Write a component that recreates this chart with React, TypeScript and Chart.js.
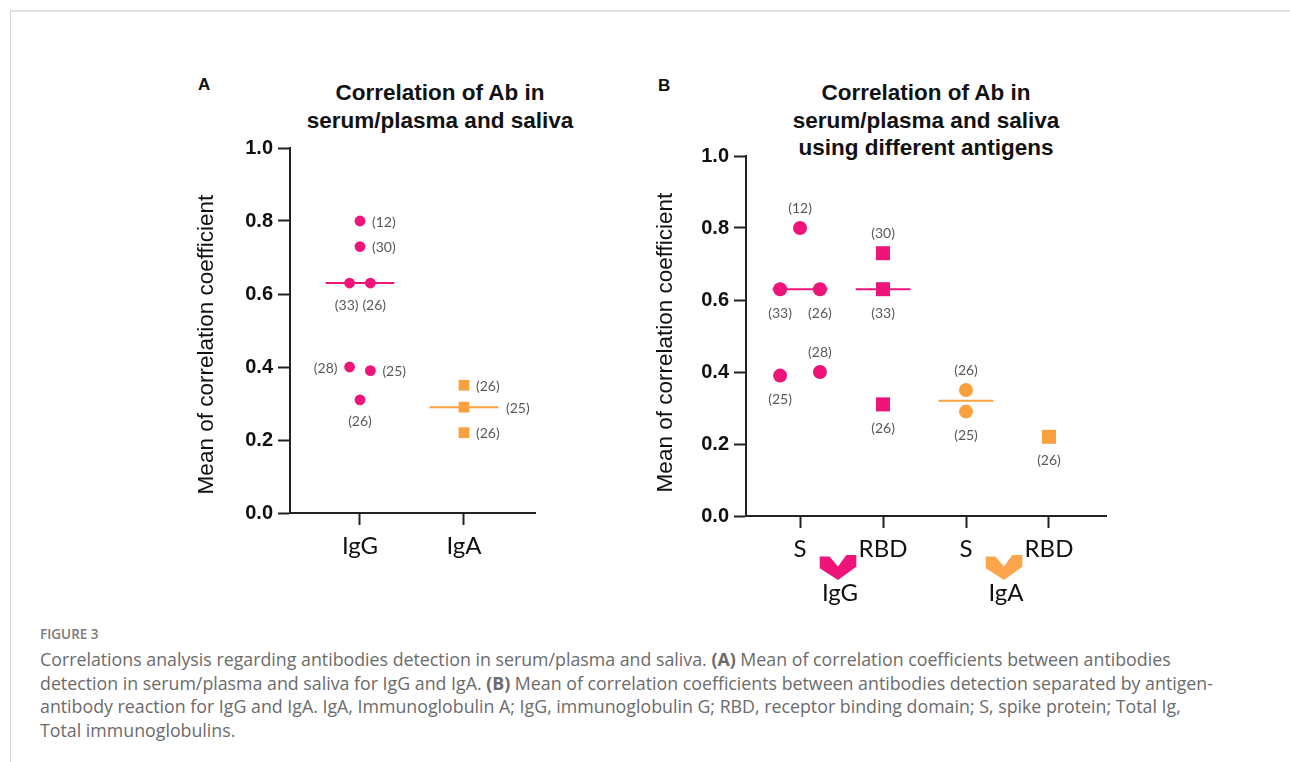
import React, { useEffect, useRef } from 'react';
import { Chart, registerables } from 'chart.js';

Chart.register(...registerables);

const PINK = '#EE1479';
const ORANGE = '#F9A03F';
const ORANGE_ARROW = '#FBA64A';
const LABEL_GREY = '#595959';
const AXIS_TITLE = 'Mean of correlation coefficient';

// ---------- Panel A data ----------
const categoriesA = ['IgG', 'IgA'];
const igGCorrA = [0.8, 0.73, 0.63, 0.63, 0.4, 0.39, 0.31];
const igGSlotA = [0, 0, -1, 1, -1, 1, 0];
const igGRefsA = ['(12)', '(30)', '(33)', '(26)', '(28)', '(25)', '(26)'];
const igGAnchorA = ['right', 'right', 'belowL', 'belowR', 'left', 'right', 'below'];
const igACorrA = [0.35, 0.29, 0.22];
const igASlotA = [0, 0, 0];
const igARefsA = ['(26)', '(25)', '(26)'];
const igAAnchorA = ['right', 'rightFar', 'right'];
const mediansA = [0.63, 0.29];

// ---------- Panel B data ----------
const categoriesB = ['S', 'RBD', 'S', 'RBD'];
const groupsB = ['IgG', 'IgA'];
const igGSCorrB = [0.8, 0.63, 0.63, 0.39, 0.4];
const igGSSlotB = [0, -1, 1, -1, 1];
const igGSRefsB = ['(12)', '(33)', '(26)', '(25)', '(28)'];
const igGSAnchorB = ['above', 'below', 'below', 'below', 'above'];
const igGRbdCorrB = [0.73, 0.63, 0.31];
const igGRbdSlotB = [0, 0, 0];
const igGRbdRefsB = ['(30)', '(33)', '(26)'];
const igGRbdAnchorB = ['above', 'below', 'below'];
const igASCorrB = [0.35, 0.29];
const igASSlotB = [0, 0];
const igASRefsB = ['(26)', '(25)'];
const igASAnchorB = ['above', 'below'];
const igARbdCorrB = [0.22];
const igARbdSlotB = [0];
const igARbdRefsB = ['(26)'];
const igARbdAnchorB = ['below'];
const mediansB = [0.63, 0.63, 0.32, null];

const yTicks = [0, 0.2, 0.4, 0.6, 0.8, 1.0];

function pointSet(values: number[], cat: number, slots: number[], spread: number, refs: string[], anchors: string[], color: string, style: string, radius: number) {
  return {
    data: values.map((v, i) => ({ x: cat + slots[i] * spread, y: v })),
    backgroundColor: color,
    borderColor: color,
    borderWidth: 0,
    pointStyle: style,
    pointRadius: radius,
    pointHoverRadius: radius,
    showLine: false,
    order: 0,
    refs,
    anchors,
  } as any;
}

function medianSet(value: number | null, cat: number, color: string, half: number) {
  return {
    data: value == null ? [] : [{ x: cat - half, y: value }, { x: cat + half, y: value }],
    borderColor: color,
    backgroundColor: color,
    borderWidth: 2,
    pointRadius: 0,
    showLine: true,
    order: 5,
  } as any;
}

const refLabelPlugin = {
  id: 'refLabels',
  afterDatasetsDraw(chart: any, _args: any, opts: any) {
    const ctx = chart.ctx;
    ctx.save();
    ctx.font = '14px Lato, "Noto Sans", sans-serif';
    ctx.fillStyle = LABEL_GREY;
    ctx.textBaseline = 'middle';
    chart.data.datasets.forEach((ds: any, di: number) => {
      if (!ds.refs) return;
      const meta = chart.getDatasetMeta(di);
      meta.data.forEach((pt: any, i: number) => {
        const a = ds.anchors[i];
        let x = pt.x;
        let y = pt.y;
        if (a === 'right') { ctx.textAlign = 'left'; x += opts.side; y += 1; }
        else if (a === 'rightFar') { ctx.textAlign = 'left'; x += opts.far; y += 1; }
        else if (a === 'left') { ctx.textAlign = 'right'; x -= opts.side; y += 1; }
        else if (a === 'above') { ctx.textAlign = 'center'; y -= opts.above; }
        else if (a === 'belowL') { ctx.textAlign = 'right'; x += 9; y += opts.below; }
        else if (a === 'belowR') { ctx.textAlign = 'left'; x -= 8; y += opts.below; }
        else { ctx.textAlign = 'center'; y += opts.below; }
        ctx.fillText(ds.refs[i], x, y);
      });
    });
    ctx.restore();
  },
};

const yTitlePlugin = {
  id: 'yTitle',
  afterDraw(chart: any, _args: any, opts: any) {
    const { ctx, chartArea } = chart;
    ctx.save();
    ctx.translate(chartArea.left + opts.dx, (chartArea.top + chartArea.bottom) / 2 + opts.dy);
    ctx.rotate(-Math.PI / 2);
    ctx.font = '22.5px "Liberation Sans", Arial, sans-serif';
    ctx.fillStyle = '#111';
    ctx.textAlign = 'center';
    ctx.textBaseline = 'middle';
    ctx.fillText(opts.text, 0, 0);
    ctx.restore();
  },
};

const groupPlugin = {
  id: 'groups',
  afterDraw(chart: any, _args: any, opts: any) {
    if (!opts || !opts.groups) return;
    const { ctx } = chart;
    const xs = chart.scales.x;
    const bottom = chart.chartArea.bottom;
    opts.groups.forEach((g: string, gi: number) => {
      const a = xs.getPixelForValue(gi * 2 + 1);
      const b = xs.getPixelForValue(gi * 2 + 2);
      const mid = (a + b) / 2;
      const cx = mid - 3.5;
      const pts = [
        [-18.3, 40.5], [-8.5, 40.5], [0, 50.5], [8.3, 39], [18.3, 39],
        [18.3, 50.7], [0, 64], [-18.3, 52.3],
      ];
      ctx.save();
      ctx.fillStyle = opts.colors[gi];
      ctx.beginPath();
      pts.forEach((p, i) => {
        if (i === 0) ctx.moveTo(cx + p[0], bottom + p[1]);
        else ctx.lineTo(cx + p[0], bottom + p[1]);
      });
      ctx.closePath();
      ctx.fill();
      ctx.fillStyle = '#111';
      ctx.font = '24px Lato, "Noto Sans", sans-serif';
      ctx.textAlign = 'center';
      ctx.textBaseline = 'middle';
      ctx.fillText(g, mid - 1.5, bottom + 77);
      ctx.restore();
    });
  },
};

function makeOptions(cats: string[], xmin: number, xmax: number, yWidth: number, xHeight: number, pad: any, titleDx: number, titleDy: number, extra: any) {
  return {
    animation: false,
    responsive: false,
    devicePixelRatio: 1,
    events: [],
    layout: { padding: pad },
    plugins: {
      legend: { display: false },
      tooltip: { enabled: false },
      refLabels: extra.labels,
      yTitle: { text: AXIS_TITLE, dx: titleDx, dy: titleDy },
      groups: extra.groups || {},
    },
    scales: {
      x: {
        type: 'linear',
        min: xmin,
        max: xmax,
        afterBuildTicks: (scale: any) => {
          scale.ticks = cats.map((_, i) => ({ value: i + 1 }));
        },
        afterFit: (scale: any) => { scale.height = xHeight; },
        ticks: {
          autoSkip: false,
          maxRotation: 0,
          padding: 7,
          color: '#111',
          font: { family: 'Lato, "Noto Sans", sans-serif', size: 24 },
          callback: (v: number) => cats[Math.round(v) - 1] ?? '',
        },
        grid: {
          drawOnChartArea: false,
          drawTicks: true,
          tickLength: 12,
          tickWidth: 2,
          tickColor: '#222',
        },
        border: { display: true, color: '#222', width: 2 },
      },
      y: {
        type: 'linear',
        min: 0,
        max: 1,
        afterBuildTicks: (scale: any) => {
          scale.ticks = yTicks.map((v) => ({ value: v }));
        },
        afterFit: (scale: any) => { scale.width = yWidth; },
        ticks: {
          padding: 5,
          color: '#111',
          font: { family: '"Liberation Sans", Arial, sans-serif', size: 20, weight: 'bold' },
          callback: (v: number) => Number(v).toFixed(1),
        },
        grid: {
          drawOnChartArea: false,
          drawTicks: true,
          tickLength: 12,
          tickWidth: 2,
          tickColor: '#222',
        },
        border: { display: true, color: '#222', width: 2 },
      },
    },
  } as any;
}

function ChartA() {
  const ref = useRef<HTMLCanvasElement>(null);
  useEffect(() => {
    if (!ref.current) return;
    const spread = 0.1;
    const half = 0.33;
    const chart = new Chart(ref.current, {
      type: 'scatter',
      data: {
        datasets: [
          pointSet(igGCorrA, 1, igGSlotA, spread, igGRefsA, igGAnchorA, PINK, 'circle', 5.4),
          pointSet(igACorrA, 2, igASlotA, spread, igARefsA, igAAnchorA, ORANGE, 'rect', 7.6),
          medianSet(mediansA[0], 1, PINK, half),
          medianSet(mediansA[1], 2, ORANGE, half),
        ],
      },
      options: makeOptions(categoriesA, 0.327, 2.683, 140, 67, { left: 0, top: 28, right: 35, bottom: 0 }, -83, 14, {
        labels: { side: 12, far: 42, above: 20, below: 22 },
      }),
      plugins: [refLabelPlugin, yTitlePlugin],
    } as any);
    return () => chart.destroy();
  }, []);
  return <canvas ref={ref} width={420} height={460} style={{ position: 'absolute', left: 150, top: 120, width: 420, height: 460, display: 'block' }} />;
}

function ChartB() {
  const ref = useRef<HTMLCanvasElement>(null);
  useEffect(() => {
    if (!ref.current) return;
    const spread = 0.24;
    const half = 0.33;
    const chart = new Chart(ref.current, {
      type: 'scatter',
      data: {
        datasets: [
          pointSet(igGSCorrB, 1, igGSSlotB, spread, igGSRefsB, igGSAnchorB, PINK, 'circle', 7),
          pointSet(igGRbdCorrB, 2, igGRbdSlotB, spread, igGRbdRefsB, igGRbdAnchorB, PINK, 'rect', 9.9),
          pointSet(igASCorrB, 3, igASSlotB, spread, igASRefsB, igASAnchorB, ORANGE, 'circle', 7),
          pointSet(igARbdCorrB, 4, igARbdSlotB, spread, igARbdRefsB, igARbdAnchorB, ORANGE, 'rect', 9.9),
          medianSet(mediansB[0], 1, PINK, half),
          medianSet(mediansB[1], 2, PINK, half),
          medianSet(mediansB[2], 3, ORANGE, half),
          medianSet(mediansB[3], 4, ORANGE, half),
        ],
      },
      options: makeOptions(categoriesB, 0.349, 4.687, 146, 104, { left: 0, top: 36, right: 34, bottom: 0 }, -80, 6.5, {
        labels: { side: 12, far: 42, above: 20, below: 24 },
        groups: { groups: groupsB, colors: [PINK, ORANGE_ARROW] },
      }),
      plugins: [refLabelPlugin, yTitlePlugin, groupPlugin],
    } as any);
    return () => chart.destroy();
  }, []);
  return <canvas ref={ref} width={540} height={500} style={{ position: 'absolute', left: 600, top: 120, width: 540, height: 500, display: 'block' }} />;
}

const titleStyle: React.CSSProperties = {
  position: 'absolute',
  width: 400,
  textAlign: 'center',
  fontFamily: '"Liberation Sans", Arial, sans-serif',
  fontWeight: 'bold',
  fontSize: 22.5,
  lineHeight: '27.5px',
  color: '#111',
  whiteSpace: 'nowrap',
};

const panelLetter: React.CSSProperties = {
  position: 'absolute',
  fontFamily: '"Liberation Sans", Arial, sans-serif',
  fontWeight: 'bold',
  fontSize: 17,
  lineHeight: '20px',
  color: '#111',
};

const captionLine: React.CSSProperties = { whiteSpace: 'nowrap' };

export default function App() {
  return (
    <div style={{ position: 'fixed', left: 0, top: 0, width: 1290, height: 762, background: '#fff', overflow: 'hidden' }}>
      <div style={{ position: 'absolute', left: 10, top: 10, width: 1400, height: 900, borderTop: '2px solid #e0e0e0', borderLeft: '1px solid #d4d4d4' }} />
      <div style={{ ...panelLetter, left: 198, top: 75 }}>A</div>
      <div style={{ ...panelLetter, left: 658, top: 76 }}>B</div>
      <div style={{ ...titleStyle, left: 240, top: 79 }}>
        <div>Correlation of Ab in</div>
        <div>serum/plasma and saliva</div>
      </div>
      <div style={{ ...titleStyle, left: 726, top: 79 }}>
        <div>Correlation of Ab in</div>
        <div>serum/plasma and saliva</div>
        <div>using different antigens</div>
      </div>
      <ChartA />
      <ChartB />
      <div style={{ position: 'absolute', left: 40, top: 625, fontFamily: '"Open Sans", sans-serif', fontWeight: 600, fontSize: 13.5, lineHeight: '18px', color: '#7a7a7a' }}>
        FIGURE 3
      </div>
      <div style={{ position: 'absolute', left: 40, top: 648, fontFamily: '"Open Sans", sans-serif', fontSize: 17.8, lineHeight: '23.7px', color: '#6b6b6b' }}>
        <div style={captionLine}>Correlations analysis regarding antibodies detection in serum/plasma and saliva. <b>(A)</b> Mean of correlation coefficients between antibodies</div>
        <div style={captionLine}>detection in serum/plasma and saliva for IgG and IgA. <b>(B)</b> Mean of correlation coefficients between antibodies detection separated by antigen-</div>
        <div style={captionLine}>antibody reaction for IgG and IgA. IgA, Immunoglobulin A; IgG, immunoglobulin G; RBD, receptor binding domain; S, spike protein; Total Ig,</div>
        <div style={captionLine}>Total immunoglobulins.</div>
      </div>
    </div>
  );
}
